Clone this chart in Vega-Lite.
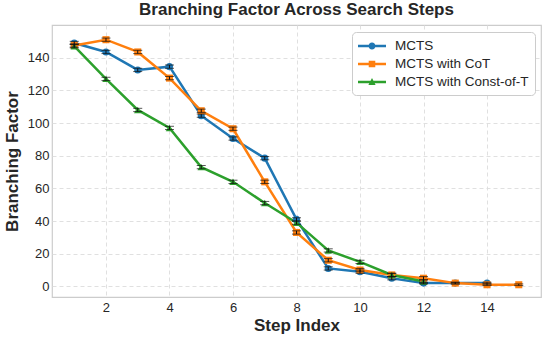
{
  "$schema": "https://vega.github.io/schema/vega-lite/v6.json",
  "width": 489,
  "height": 272,
  "autosize": "none",
  "padding": {"left": 52, "top": 25, "right": 7, "bottom": 43},
  "background": "white",
  "title": {
    "text": "Branching Factor Across Search Steps",
    "font": "Liberation Sans",
    "fontSize": 17,
    "fontWeight": "bold",
    "color": "#262626",
    "offset": 6
  },
  "config": {
    "view": {"stroke": "#cccccc", "strokeWidth": 1.2},
    "axis": {
      "labelFont": "Liberation Sans",
      "labelFontSize": 13,
      "labelColor": "#262626",
      "titleFont": "Liberation Sans",
      "titleFontSize": 17,
      "titleFontWeight": "bold",
      "titleColor": "#262626",
      "domain": false,
      "ticks": false,
      "grid": true,
      "gridColor": "#dddddd",
      "gridDash": [4, 3],
      "gridWidth": 0.9
    }
  },
  "data": {
    "values": [
      {"step": 1, "series": "MCTS", "value": 149, "lo": 148, "hi": 150},
      {"step": 2, "series": "MCTS", "value": 143.5, "lo": 142.5, "hi": 144.5},
      {"step": 3, "series": "MCTS", "value": 132.5, "lo": 131.5, "hi": 133.5},
      {"step": 4, "series": "MCTS", "value": 134.5, "lo": 133.5, "hi": 135.5},
      {"step": 5, "series": "MCTS", "value": 104.5, "lo": 103.5, "hi": 105.5},
      {"step": 6, "series": "MCTS", "value": 90.5, "lo": 89.5, "hi": 91.5},
      {"step": 7, "series": "MCTS", "value": 78.5, "lo": 77.5, "hi": 79.5},
      {"step": 8, "series": "MCTS", "value": 41, "lo": 40, "hi": 42},
      {"step": 9, "series": "MCTS", "value": 11, "lo": 10, "hi": 12},
      {"step": 10, "series": "MCTS", "value": 9, "lo": 8, "hi": 10},
      {"step": 11, "series": "MCTS", "value": 5, "lo": 4, "hi": 6},
      {"step": 12, "series": "MCTS", "value": 2, "lo": 1.5, "hi": 2.5},
      {"step": 13, "series": "MCTS", "value": 2, "lo": 1.5, "hi": 2.5},
      {"step": 14, "series": "MCTS", "value": 2, "lo": 1.5, "hi": 2.5},
      {"step": 1, "series": "MCTS with CoT", "value": 147.5, "lo": 146.5, "hi": 148.5},
      {"step": 2, "series": "MCTS with CoT", "value": 151, "lo": 150, "hi": 152},
      {"step": 3, "series": "MCTS with CoT", "value": 143.5, "lo": 142.5, "hi": 144.5},
      {"step": 4, "series": "MCTS with CoT", "value": 127.5, "lo": 126.5, "hi": 128.5},
      {"step": 5, "series": "MCTS with CoT", "value": 107.5, "lo": 106.5, "hi": 108.5},
      {"step": 6, "series": "MCTS with CoT", "value": 96.5, "lo": 95.5, "hi": 97.5},
      {"step": 7, "series": "MCTS with CoT", "value": 64, "lo": 63, "hi": 65},
      {"step": 8, "series": "MCTS with CoT", "value": 33, "lo": 32, "hi": 34},
      {"step": 9, "series": "MCTS with CoT", "value": 16, "lo": 15, "hi": 17},
      {"step": 10, "series": "MCTS with CoT", "value": 10, "lo": 9, "hi": 11},
      {"step": 11, "series": "MCTS with CoT", "value": 7, "lo": 6, "hi": 8},
      {"step": 12, "series": "MCTS with CoT", "value": 5, "lo": 4, "hi": 6},
      {"step": 13, "series": "MCTS with CoT", "value": 2, "lo": 1.5, "hi": 2.5},
      {"step": 14, "series": "MCTS with CoT", "value": 1, "lo": 0.5, "hi": 1.5},
      {"step": 15, "series": "MCTS with CoT", "value": 1, "lo": 0.5, "hi": 1.5},
      {"step": 1, "series": "MCTS with Const-of-T", "value": 147, "lo": 146, "hi": 148},
      {"step": 2, "series": "MCTS with Const-of-T", "value": 127, "lo": 126, "hi": 128},
      {"step": 3, "series": "MCTS with Const-of-T", "value": 108, "lo": 107, "hi": 109},
      {"step": 4, "series": "MCTS with Const-of-T", "value": 97, "lo": 96, "hi": 98},
      {"step": 5, "series": "MCTS with Const-of-T", "value": 73, "lo": 72, "hi": 74},
      {"step": 6, "series": "MCTS with Const-of-T", "value": 64, "lo": 63, "hi": 65},
      {"step": 7, "series": "MCTS with Const-of-T", "value": 51, "lo": 50, "hi": 52},
      {"step": 8, "series": "MCTS with Const-of-T", "value": 39, "lo": 38, "hi": 40},
      {"step": 9, "series": "MCTS with Const-of-T", "value": 22, "lo": 21, "hi": 23},
      {"step": 10, "series": "MCTS with Const-of-T", "value": 15, "lo": 14, "hi": 16},
      {"step": 11, "series": "MCTS with Const-of-T", "value": 7, "lo": 6, "hi": 8},
      {"step": 12, "series": "MCTS with Const-of-T", "value": 3, "lo": 2, "hi": 4}
    ]
  },
  "encoding": {
    "x": {
      "field": "step",
      "type": "quantitative",
      "scale": {"domain": [0.3, 15.7], "nice": false, "zero": false},
      "axis": {"values": [2, 4, 6, 8, 10, 12, 14], "title": "Step Index", "labelPadding": 4, "titlePadding": 3}
    },
    "y": {
      "field": "value",
      "type": "quantitative",
      "scale": {"domain": [-6.5, 160], "nice": false, "zero": false},
      "axis": {"values": [0, 20, 40, 60, 80, 100, 120, 140], "title": "Branching Factor", "labelPadding": 3, "titlePadding": 6}
    }
  },
  "layer": [
    {
      "mark": {"type": "line", "strokeWidth": 2.5},
      "encoding": {
        "color": {
          "field": "series",
          "type": "nominal",
          "scale": {
            "domain": ["MCTS", "MCTS with CoT", "MCTS with Const-of-T"],
            "range": ["#1f77b4", "#ff7f0e", "#2ca02c"]
          },
          "legend": {
            "title": null,
            "orient": "none",
            "legendX": 300,
            "legendY": 7,
            "labelFont": "Liberation Sans",
            "labelFontSize": 13.5,
            "labelColor": "#262626",
            "fillColor": "white",
            "strokeColor": "#cccccc",
            "cornerRadius": 4,
            "padding": 6,
            "rowPadding": 3,
            "symbolSize": 256,
            "labelOffset": 21,
            "encode": {
              "symbols": {
                "update": {
                  "shape": {"signal": "datum.value === 'MCTS' ? 'M-1,-0.15H2.5V0.15H-1Z M1.19,0A0.44,0.44 0 1,1 0.31,0A0.44,0.44 0 1,1 1.19,0Z' : (datum.value === 'MCTS with CoT' ? 'M-1,-0.15H2.5V0.15H-1Z M0.34,-0.41H1.16V0.41H0.34Z' : 'M-1,-0.15H2.5V0.15H-1Z M0.75,-0.5L1.2,0.38H0.3Z')"},
                  "fill": {"signal": "datum.value === 'MCTS' ? '#1f77b4' : (datum.value === 'MCTS with CoT' ? '#ff7f0e' : '#2ca02c')"},
                  "stroke": {"signal": "datum.value === 'MCTS' ? '#1f77b4' : (datum.value === 'MCTS with CoT' ? '#ff7f0e' : '#2ca02c')"},
                  "strokeWidth": {"value": 0},
                  "opacity": {"value": 1}
                }
              }
            }
          }
        }
      }
    },
    {
      "transform": [{"filter": "datum.series === 'MCTS'"}],
      "mark": {"type": "point", "shape": "circle", "filled": true, "size": 50, "color": "#1f77b4", "opacity": 1}
    },
    {
      "transform": [{"filter": "datum.series === 'MCTS with CoT'"}],
      "mark": {"type": "point", "shape": "square", "filled": true, "size": 50, "color": "#ff7f0e", "opacity": 1}
    },
    {
      "transform": [{"filter": "datum.series === 'MCTS with Const-of-T'"}],
      "mark": {"type": "point", "shape": "triangle-up", "filled": true, "size": 55, "color": "#2ca02c", "opacity": 1}
    },
    {
      "mark": {"type": "rule", "color": "#111111", "strokeWidth": 1},
      "encoding": {"y": {"field": "lo", "type": "quantitative"}, "y2": {"field": "hi"}}
    },
    {
      "mark": {"type": "tick", "orient": "horizontal", "color": "#111111", "size": 9, "thickness": 1},
      "encoding": {"y": {"field": "lo", "type": "quantitative"}}
    },
    {
      "mark": {"type": "tick", "orient": "horizontal", "color": "#111111", "size": 9, "thickness": 1},
      "encoding": {"y": {"field": "hi", "type": "quantitative"}}
    }
  ]
}
